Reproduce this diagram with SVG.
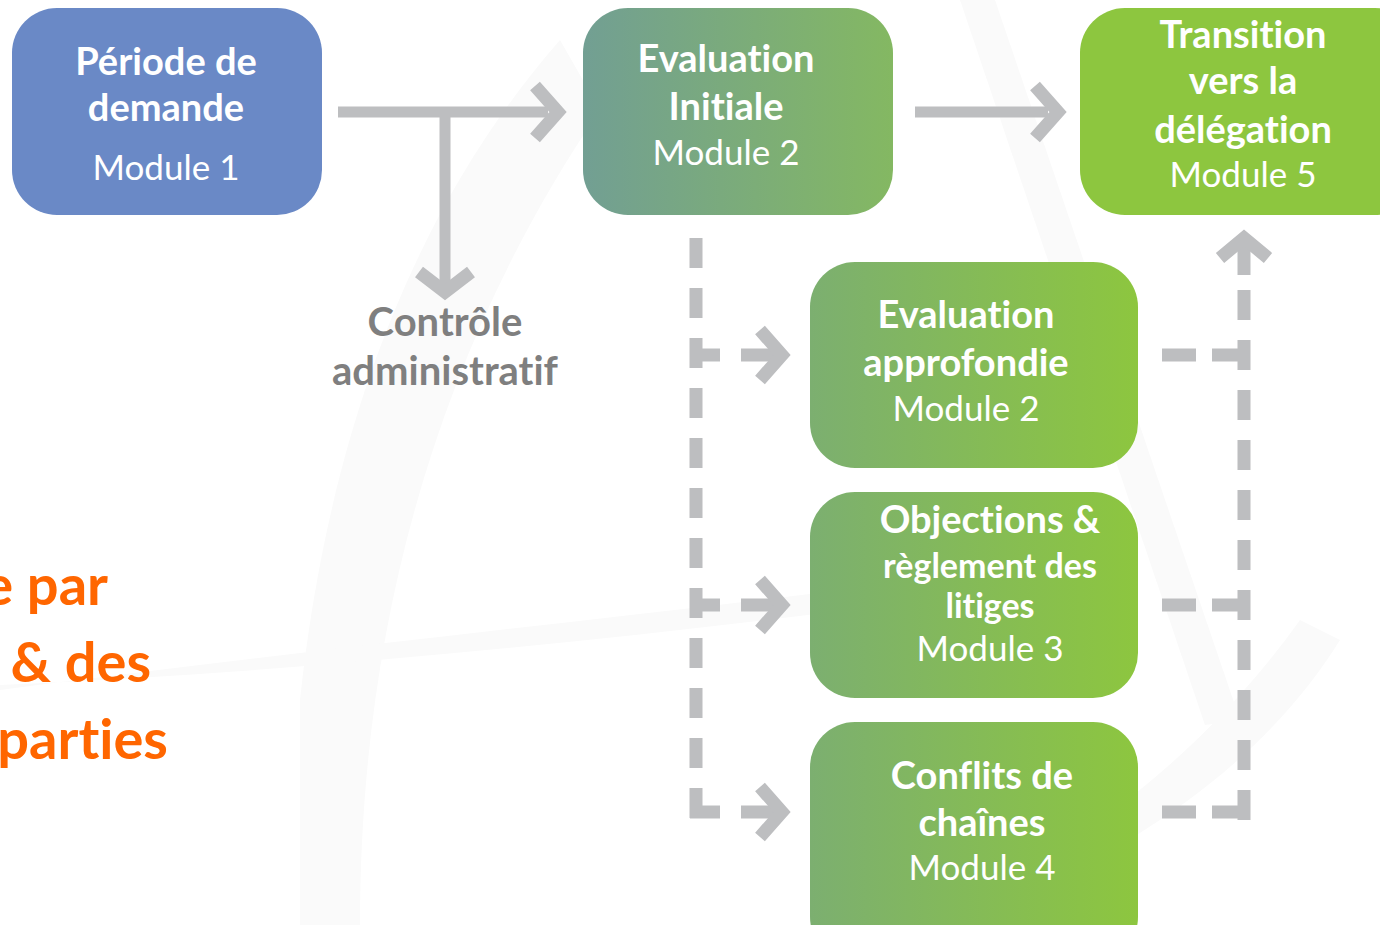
<svg xmlns="http://www.w3.org/2000/svg" width="1380" height="925" viewBox="0 0 1380 925">
<defs>
<linearGradient id="gInit" x1="0" y1="0" x2="1" y2="0"><stop offset="0" stop-color="#729F93"/><stop offset="1" stop-color="#84B862"/></linearGradient>
<linearGradient id="gMod" x1="0" y1="0" x2="1" y2="0"><stop offset="0" stop-color="#7CAF70"/><stop offset="1" stop-color="#8DC63F"/></linearGradient>
<style>
.box{stroke:none}
text{font-variant-ligatures:none;font-feature-settings:"liga" 0,"clig" 0}
.t{font-family:Lato,"Open Sans","Liberation Sans",sans-serif;fill:#fff;text-anchor:middle}
.b{font-weight:bold;font-size:38px}
.r{font-weight:normal;font-size:35px}
.g{font-family:Lato,"Open Sans","Liberation Sans",sans-serif;fill:#7F7F7F;font-weight:bold;font-size:40px;text-anchor:middle}
.o{font-family:Lato,"Open Sans","Liberation Sans",sans-serif;fill:#FF6600;font-weight:bold;font-size:56px;text-anchor:end}
.ln{stroke:#BDBEC0;stroke-width:11;fill:none}
.ds{stroke:#BDBEC0;stroke-width:13;fill:none;stroke-dasharray:30 20}
.hd{stroke:#BDBEC0;stroke-width:13;fill:none;stroke-linejoin:miter;stroke-linecap:butt}
.wm{fill:#FAFAFA}
</style>
</defs>
<rect width="1380" height="925" fill="#fff"/>
<g id="watermark">
<path class="wm" d="M560 40 C420 200 330 420 300 700 L300 925 L360 925 C360 640 430 360 600 110 Z"/>
<path class="wm" d="M0 690 C300 650 700 610 1000 570 L1005 590 C700 630 350 670 0 685 Z"/>
<path class="wm" d="M960 0 L995 0 L1240 720 L1205 725 Z"/>
<path class="wm" d="M1300 620 C1200 760 1050 880 880 925 L940 925 C1110 870 1260 770 1340 640 Z"/>
</g>
<g id="connectors">
<path class="ln" d="M338 112 H548"/>
<path class="hd" d="M535 86 L558 112 L535 138"/>
<path class="ln" d="M445 112 V285"/>
<path class="hd" d="M419 272 L445 292 L471 272"/>
<path class="ln" d="M915 112 H1048"/>
<path class="hd" d="M1035 86 L1058 112 L1035 138"/>
<path class="ds" d="M696 238 V820"/>
<path class="ds" d="M690 355 H725"/>
<path class="ds" d="M690 605 H725"/>
<path class="ds" d="M690 812 H725"/>
<path class="hd" d="M741 355 H780"/>
<path class="hd" d="M760 330 L782 355 L760 380"/>
<path class="hd" d="M741 605 H780"/>
<path class="hd" d="M760 580 L782 605 L760 630"/>
<path class="hd" d="M741 812 H780"/>
<path class="hd" d="M760 787 L782 812 L760 837"/>
<path class="ds" d="M1244 820 V290"/>
<path class="hd" d="M1244 240 V275"/>
<path class="hd" d="M1220 258 L1244 238 L1268 258"/>
<path class="hd" d="M1162 355 H1196"/>
<path class="hd" d="M1212 355 H1250"/>
<path class="hd" d="M1162 605 H1196"/>
<path class="hd" d="M1212 605 H1250"/>
<path class="hd" d="M1162 812 H1196"/>
<path class="hd" d="M1212 812 H1250"/>
</g>
<g id="node-m1">
<rect class="box" x="12" y="8" width="310" height="207" rx="45" fill="#6A89C6"/>
<text class="t b" x="166" y="75">Période de</text>
<text class="t b" x="166" y="121">demande</text>
<text class="t r" x="166" y="180">Module 1</text>
</g>
<g id="node-m2">
<rect class="box" x="583" y="8" width="310" height="207" rx="45" fill="url(#gInit)"/>
<text class="t b" x="726" y="72">Evaluation</text>
<text class="t b" x="726" y="120">Initiale</text>
<text class="t r" x="726" y="165">Module 2</text>
</g>
<g id="node-m5">
<rect class="box" x="1080" y="8" width="340" height="207" rx="45" fill="#8DC63F"/>
<text class="t b" x="1243" y="48">Transition</text>
<text class="t b" x="1243" y="94">vers la</text>
<text class="t b" x="1243" y="143">délégation</text>
<text class="t r" x="1243" y="187">Module 5</text>
</g>
<g id="node-controle">
<text class="g" x="445" y="336">Contrôle</text>
<text class="g" x="445" y="385">administratif</text>
</g>
<g id="node-approfondie">
<rect class="box" x="810" y="262" width="328" height="206" rx="45" fill="url(#gMod)"/>
<text class="t b" x="966" y="328">Evaluation</text>
<text class="t b" x="966" y="376">approfondie</text>
<text class="t r" x="966" y="421">Module 2</text>
</g>
<g id="node-m3">
<rect class="box" x="810" y="492" width="328" height="206" rx="45" fill="url(#gMod)"/>
<text class="t b" x="990" y="533">Objections &amp;</text>
<text class="t b" x="990" y="578" style="font-size:34px">règlement des</text>
<text class="t b" x="990" y="618" style="font-size:34px">litiges</text>
<text class="t r" x="990" y="661">Module 3</text>
</g>
<g id="node-m4">
<rect class="box" x="810" y="722" width="328" height="240" rx="45" fill="url(#gMod)"/>
<text class="t b" x="982" y="789">Conflits de</text>
<text class="t b" x="982" y="836">chaînes</text>
<text class="t r" x="982" y="880">Module 4</text>
</g>
<g id="orange-text">
<text class="o" x="108" y="605">e par</text>
<text class="o" x="151" y="682">&amp; des</text>
<text class="o" x="168" y="759">parties</text>
</g>
</svg>
